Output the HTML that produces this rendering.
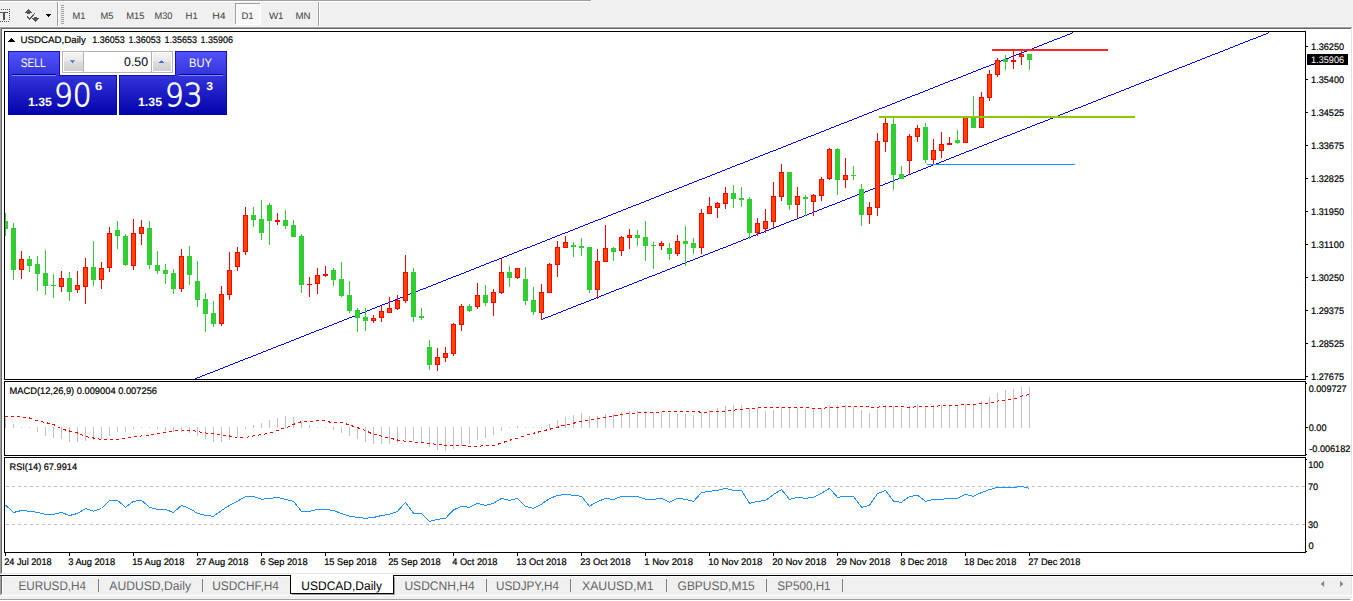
<!DOCTYPE html>
<html lang="en"><head><meta charset="utf-8"><title>USDCAD,Daily</title>
<style>
html,body{margin:0;padding:0;background:#f0f0f0;overflow:hidden}
svg{display:block;font-family:"Liberation Sans", sans-serif}
text{white-space:pre}
</style></head><body>
<svg width="1353" height="601" viewBox="0 0 1353 601" shape-rendering="crispEdges" text-rendering="geometricPrecision">
<rect x="0" y="0" width="1353" height="601" fill="#f0f0f0"/>
<rect x="2" y="29" width="1349" height="545" fill="#fff"/>
<rect x="4" y="31" width="1302" height="1" fill="#000"/>
<rect x="4" y="379" width="1302" height="1" fill="#000"/>
<rect x="4" y="31" width="1" height="349" fill="#000"/>
<rect x="1305" y="31" width="1" height="349" fill="#000"/>
<rect x="4" y="381" width="1302" height="1" fill="#000"/>
<rect x="4" y="455" width="1302" height="1" fill="#000"/>
<rect x="4" y="381" width="1" height="75" fill="#000"/>
<rect x="1305" y="381" width="1" height="75" fill="#000"/>
<rect x="4" y="457" width="1302" height="1" fill="#000"/>
<rect x="4" y="552" width="1302" height="1" fill="#000"/>
<rect x="4" y="457" width="1" height="96" fill="#000"/>
<rect x="1305" y="457" width="1" height="96" fill="#000"/>
<rect x="1306" y="383" width="1" height="1" fill="#000"/>
<rect x="1306" y="454" width="1" height="1" fill="#000"/>
<rect x="1306" y="459" width="1" height="1" fill="#000"/>
<rect x="1306" y="551" width="1" height="1" fill="#000"/>
<defs><clipPath id="cm"><rect x="5" y="32" width="1300" height="347"/></clipPath><linearGradient id="gb" x1="0" y1="51" x2="0" y2="115" gradientUnits="userSpaceOnUse"><stop offset="0" stop-color="#5353fa"/><stop offset="1" stop-color="#0202aa"/></linearGradient><linearGradient id="gs" x1="0" y1="0" x2="0" y2="1"><stop offset="0" stop-color="#f3f3f3"/><stop offset="0.45" stop-color="#e8e8e8"/><stop offset="0.5" stop-color="#dcdcdc"/><stop offset="1" stop-color="#d0d0d0"/></linearGradient></defs>
<g clip-path="url(#cm)">
<path d="M1072 32h1v1h-1zM1070 33h2v1h-2zM1067 34h3v1h-3zM1065 35h2v1h-2zM1062 36h3v1h-3zM1060 37h2v1h-2zM1057 38h3v1h-3zM1054 39h3v1h-3zM1052 40h2v1h-2zM1049 41h3v1h-3zM1047 42h2v1h-2zM1044 43h3v1h-3zM1042 44h2v1h-2zM1039 45h3v1h-3zM1037 46h2v1h-2zM1034 47h3v1h-3zM1032 48h2v1h-2zM1029 49h3v1h-3zM1027 50h2v1h-2zM1024 51h3v1h-3zM1022 52h2v1h-2zM1019 53h3v1h-3zM1016 54h3v1h-3zM1014 55h2v1h-2zM1011 56h3v1h-3zM1009 57h2v1h-2zM1006 58h3v1h-3zM1004 59h2v1h-2zM1001 60h3v1h-3zM999 61h2v1h-2zM996 62h3v1h-3zM994 63h2v1h-2zM991 64h3v1h-3zM989 65h2v1h-2zM986 66h3v1h-3zM983 67h3v1h-3zM981 68h2v1h-2zM978 69h3v1h-3zM976 70h2v1h-2zM973 71h3v1h-3zM971 72h2v1h-2zM968 73h3v1h-3zM966 74h2v1h-2zM963 75h3v1h-3zM961 76h2v1h-2zM958 77h3v1h-3zM956 78h2v1h-2zM953 79h3v1h-3zM950 80h3v1h-3zM948 81h2v1h-2zM945 82h3v1h-3zM943 83h2v1h-2zM940 84h3v1h-3zM938 85h2v1h-2zM935 86h3v1h-3zM933 87h2v1h-2zM930 88h3v1h-3zM928 89h2v1h-2zM925 90h3v1h-3zM923 91h2v1h-2zM920 92h3v1h-3zM918 93h2v1h-2zM915 94h3v1h-3zM912 95h3v1h-3zM910 96h2v1h-2zM907 97h3v1h-3zM905 98h2v1h-2zM902 99h3v1h-3zM900 100h2v1h-2zM897 101h3v1h-3zM895 102h2v1h-2zM892 103h3v1h-3zM890 104h2v1h-2zM887 105h3v1h-3zM885 106h2v1h-2zM882 107h3v1h-3zM879 108h3v1h-3zM877 109h2v1h-2zM874 110h3v1h-3zM872 111h2v1h-2zM869 112h3v1h-3zM867 113h2v1h-2zM864 114h3v1h-3zM862 115h2v1h-2zM859 116h3v1h-3zM857 117h2v1h-2zM854 118h3v1h-3zM852 119h2v1h-2zM849 120h3v1h-3zM847 121h2v1h-2zM844 122h3v1h-3zM841 123h3v1h-3zM839 124h2v1h-2zM836 125h3v1h-3zM834 126h2v1h-2zM831 127h3v1h-3zM829 128h2v1h-2zM826 129h3v1h-3zM824 130h2v1h-2zM821 131h3v1h-3zM819 132h2v1h-2zM816 133h3v1h-3zM814 134h2v1h-2zM811 135h3v1h-3zM808 136h3v1h-3zM806 137h2v1h-2zM803 138h3v1h-3zM801 139h2v1h-2zM798 140h3v1h-3zM796 141h2v1h-2zM793 142h3v1h-3zM791 143h2v1h-2zM788 144h3v1h-3zM786 145h2v1h-2zM783 146h3v1h-3zM781 147h2v1h-2zM778 148h3v1h-3zM776 149h2v1h-2zM773 150h3v1h-3zM770 151h3v1h-3zM768 152h2v1h-2zM765 153h3v1h-3zM763 154h2v1h-2zM760 155h3v1h-3zM758 156h2v1h-2zM755 157h3v1h-3zM753 158h2v1h-2zM750 159h3v1h-3zM748 160h2v1h-2zM745 161h3v1h-3zM743 162h2v1h-2zM740 163h3v1h-3zM737 164h3v1h-3zM735 165h2v1h-2zM732 166h3v1h-3zM730 167h2v1h-2zM727 168h3v1h-3zM725 169h2v1h-2zM722 170h3v1h-3zM720 171h2v1h-2zM717 172h3v1h-3zM715 173h2v1h-2zM712 174h3v1h-3zM710 175h2v1h-2zM707 176h3v1h-3zM705 177h2v1h-2zM702 178h3v1h-3zM699 179h3v1h-3zM697 180h2v1h-2zM694 181h3v1h-3zM692 182h2v1h-2zM689 183h3v1h-3zM687 184h2v1h-2zM684 185h3v1h-3zM682 186h2v1h-2zM679 187h3v1h-3zM677 188h2v1h-2zM674 189h3v1h-3zM672 190h2v1h-2zM669 191h3v1h-3zM666 192h3v1h-3zM664 193h2v1h-2zM661 194h3v1h-3zM659 195h2v1h-2zM656 196h3v1h-3zM654 197h2v1h-2zM651 198h3v1h-3zM649 199h2v1h-2zM646 200h3v1h-3zM644 201h2v1h-2zM641 202h3v1h-3zM639 203h2v1h-2zM636 204h3v1h-3zM633 205h3v1h-3zM631 206h2v1h-2zM628 207h3v1h-3zM626 208h2v1h-2zM623 209h3v1h-3zM621 210h2v1h-2zM618 211h3v1h-3zM616 212h2v1h-2zM613 213h3v1h-3zM611 214h2v1h-2zM608 215h3v1h-3zM606 216h2v1h-2zM603 217h3v1h-3zM601 218h2v1h-2zM598 219h3v1h-3zM595 220h3v1h-3zM593 221h2v1h-2zM590 222h3v1h-3zM588 223h2v1h-2zM585 224h3v1h-3zM583 225h2v1h-2zM580 226h3v1h-3zM578 227h2v1h-2zM575 228h3v1h-3zM573 229h2v1h-2zM570 230h3v1h-3zM568 231h2v1h-2zM565 232h3v1h-3zM562 233h3v1h-3zM560 234h2v1h-2zM557 235h3v1h-3zM555 236h2v1h-2zM552 237h3v1h-3zM550 238h2v1h-2zM547 239h3v1h-3zM545 240h2v1h-2zM542 241h3v1h-3zM540 242h2v1h-2zM537 243h3v1h-3zM535 244h2v1h-2zM532 245h3v1h-3zM530 246h2v1h-2zM527 247h3v1h-3zM524 248h3v1h-3zM522 249h2v1h-2zM519 250h3v1h-3zM517 251h2v1h-2zM514 252h3v1h-3zM512 253h2v1h-2zM509 254h3v1h-3zM507 255h2v1h-2zM504 256h3v1h-3zM502 257h2v1h-2zM499 258h3v1h-3zM497 259h2v1h-2zM494 260h3v1h-3zM491 261h3v1h-3zM489 262h2v1h-2zM486 263h3v1h-3zM484 264h2v1h-2zM481 265h3v1h-3zM479 266h2v1h-2zM476 267h3v1h-3zM474 268h2v1h-2zM471 269h3v1h-3zM469 270h2v1h-2zM466 271h3v1h-3zM464 272h2v1h-2zM461 273h3v1h-3zM459 274h2v1h-2zM456 275h3v1h-3zM453 276h3v1h-3zM451 277h2v1h-2zM448 278h3v1h-3zM446 279h2v1h-2zM443 280h3v1h-3zM441 281h2v1h-2zM438 282h3v1h-3zM436 283h2v1h-2zM433 284h3v1h-3zM431 285h2v1h-2zM428 286h3v1h-3zM426 287h2v1h-2zM423 288h3v1h-3zM420 289h3v1h-3zM418 290h2v1h-2zM415 291h3v1h-3zM413 292h2v1h-2zM410 293h3v1h-3zM408 294h2v1h-2zM405 295h3v1h-3zM403 296h2v1h-2zM400 297h3v1h-3zM398 298h2v1h-2zM395 299h3v1h-3zM393 300h2v1h-2zM390 301h3v1h-3zM388 302h2v1h-2zM385 303h3v1h-3zM382 304h3v1h-3zM380 305h2v1h-2zM377 306h3v1h-3zM375 307h2v1h-2zM372 308h3v1h-3zM370 309h2v1h-2zM367 310h3v1h-3zM365 311h2v1h-2zM362 312h3v1h-3zM360 313h2v1h-2zM357 314h3v1h-3zM355 315h2v1h-2zM352 316h3v1h-3zM349 317h3v1h-3zM347 318h2v1h-2zM344 319h3v1h-3zM342 320h2v1h-2zM339 321h3v1h-3zM337 322h2v1h-2zM334 323h3v1h-3zM332 324h2v1h-2zM329 325h3v1h-3zM327 326h2v1h-2zM324 327h3v1h-3zM322 328h2v1h-2zM319 329h3v1h-3zM316 330h3v1h-3zM314 331h2v1h-2zM311 332h3v1h-3zM309 333h2v1h-2zM306 334h3v1h-3zM304 335h2v1h-2zM301 336h3v1h-3zM299 337h2v1h-2zM296 338h3v1h-3zM294 339h2v1h-2zM291 340h3v1h-3zM289 341h2v1h-2zM286 342h3v1h-3zM284 343h2v1h-2zM281 344h3v1h-3zM278 345h3v1h-3zM276 346h2v1h-2zM273 347h3v1h-3zM271 348h2v1h-2zM268 349h3v1h-3zM266 350h2v1h-2zM263 351h3v1h-3zM261 352h2v1h-2zM258 353h3v1h-3zM256 354h2v1h-2zM253 355h3v1h-3zM251 356h2v1h-2zM248 357h3v1h-3zM245 358h3v1h-3zM243 359h2v1h-2zM240 360h3v1h-3zM238 361h2v1h-2zM235 362h3v1h-3zM233 363h2v1h-2zM230 364h3v1h-3zM228 365h2v1h-2zM225 366h3v1h-3zM223 367h2v1h-2zM220 368h3v1h-3zM218 369h2v1h-2zM215 370h3v1h-3zM213 371h2v1h-2zM210 372h3v1h-3zM207 373h3v1h-3zM205 374h2v1h-2zM202 375h3v1h-3zM200 376h2v1h-2zM197 377h3v1h-3zM195 378h2v1h-2z" fill="#0000ff"/>
<path d="M1268 32h1v1h-1zM1266 33h2v1h-2zM1263 34h3v1h-3zM1261 35h2v1h-2zM1258 36h3v1h-3zM1256 37h2v1h-2zM1253 38h3v1h-3zM1250 39h3v1h-3zM1248 40h2v1h-2zM1245 41h3v1h-3zM1243 42h2v1h-2zM1240 43h3v1h-3zM1238 44h2v1h-2zM1235 45h3v1h-3zM1233 46h2v1h-2zM1230 47h3v1h-3zM1228 48h2v1h-2zM1225 49h3v1h-3zM1223 50h2v1h-2zM1220 51h3v1h-3zM1218 52h2v1h-2zM1215 53h3v1h-3zM1212 54h3v1h-3zM1210 55h2v1h-2zM1207 56h3v1h-3zM1205 57h2v1h-2zM1202 58h3v1h-3zM1200 59h2v1h-2zM1197 60h3v1h-3zM1195 61h2v1h-2zM1192 62h3v1h-3zM1190 63h2v1h-2zM1187 64h3v1h-3zM1185 65h2v1h-2zM1182 66h3v1h-3zM1179 67h3v1h-3zM1177 68h2v1h-2zM1174 69h3v1h-3zM1172 70h2v1h-2zM1169 71h3v1h-3zM1167 72h2v1h-2zM1164 73h3v1h-3zM1162 74h2v1h-2zM1159 75h3v1h-3zM1157 76h2v1h-2zM1154 77h3v1h-3zM1152 78h2v1h-2zM1149 79h3v1h-3zM1146 80h3v1h-3zM1144 81h2v1h-2zM1141 82h3v1h-3zM1139 83h2v1h-2zM1136 84h3v1h-3zM1134 85h2v1h-2zM1131 86h3v1h-3zM1129 87h2v1h-2zM1126 88h3v1h-3zM1124 89h2v1h-2zM1121 90h3v1h-3zM1119 91h2v1h-2zM1116 92h3v1h-3zM1114 93h2v1h-2zM1111 94h3v1h-3zM1108 95h3v1h-3zM1106 96h2v1h-2zM1103 97h3v1h-3zM1101 98h2v1h-2zM1098 99h3v1h-3zM1096 100h2v1h-2zM1093 101h3v1h-3zM1091 102h2v1h-2zM1088 103h3v1h-3zM1086 104h2v1h-2zM1083 105h3v1h-3zM1081 106h2v1h-2zM1078 107h3v1h-3zM1075 108h3v1h-3zM1073 109h2v1h-2zM1070 110h3v1h-3zM1068 111h2v1h-2zM1065 112h3v1h-3zM1063 113h2v1h-2zM1060 114h3v1h-3zM1058 115h2v1h-2zM1055 116h3v1h-3zM1053 117h2v1h-2zM1050 118h3v1h-3zM1048 119h2v1h-2zM1045 120h3v1h-3zM1043 121h2v1h-2zM1040 122h3v1h-3zM1037 123h3v1h-3zM1035 124h2v1h-2zM1032 125h3v1h-3zM1030 126h2v1h-2zM1027 127h3v1h-3zM1025 128h2v1h-2zM1022 129h3v1h-3zM1020 130h2v1h-2zM1017 131h3v1h-3zM1015 132h2v1h-2zM1012 133h3v1h-3zM1010 134h2v1h-2zM1007 135h3v1h-3zM1004 136h3v1h-3zM1002 137h2v1h-2zM999 138h3v1h-3zM997 139h2v1h-2zM994 140h3v1h-3zM992 141h2v1h-2zM989 142h3v1h-3zM987 143h2v1h-2zM984 144h3v1h-3zM982 145h2v1h-2zM979 146h3v1h-3zM977 147h2v1h-2zM974 148h3v1h-3zM972 149h2v1h-2zM969 150h3v1h-3zM966 151h3v1h-3zM964 152h2v1h-2zM961 153h3v1h-3zM959 154h2v1h-2zM956 155h3v1h-3zM954 156h2v1h-2zM951 157h3v1h-3zM949 158h2v1h-2zM946 159h3v1h-3zM944 160h2v1h-2zM941 161h3v1h-3zM939 162h2v1h-2zM936 163h3v1h-3zM933 164h3v1h-3zM931 165h2v1h-2zM928 166h3v1h-3zM926 167h2v1h-2zM923 168h3v1h-3zM921 169h2v1h-2zM918 170h3v1h-3zM916 171h2v1h-2zM913 172h3v1h-3zM911 173h2v1h-2zM908 174h3v1h-3zM906 175h2v1h-2zM903 176h3v1h-3zM901 177h2v1h-2zM898 178h3v1h-3zM895 179h3v1h-3zM893 180h2v1h-2zM890 181h3v1h-3zM888 182h2v1h-2zM885 183h3v1h-3zM883 184h2v1h-2zM880 185h3v1h-3zM878 186h2v1h-2zM875 187h3v1h-3zM873 188h2v1h-2zM870 189h3v1h-3zM868 190h2v1h-2zM865 191h3v1h-3zM862 192h3v1h-3zM860 193h2v1h-2zM857 194h3v1h-3zM855 195h2v1h-2zM852 196h3v1h-3zM850 197h2v1h-2zM847 198h3v1h-3zM845 199h2v1h-2zM842 200h3v1h-3zM840 201h2v1h-2zM837 202h3v1h-3zM835 203h2v1h-2zM832 204h3v1h-3zM829 205h3v1h-3zM827 206h2v1h-2zM824 207h3v1h-3zM822 208h2v1h-2zM819 209h3v1h-3zM817 210h2v1h-2zM814 211h3v1h-3zM812 212h2v1h-2zM809 213h3v1h-3zM807 214h2v1h-2zM804 215h3v1h-3zM802 216h2v1h-2zM799 217h3v1h-3zM797 218h2v1h-2zM794 219h3v1h-3zM791 220h3v1h-3zM789 221h2v1h-2zM786 222h3v1h-3zM784 223h2v1h-2zM781 224h3v1h-3zM779 225h2v1h-2zM776 226h3v1h-3zM774 227h2v1h-2zM771 228h3v1h-3zM769 229h2v1h-2zM766 230h3v1h-3zM764 231h2v1h-2zM761 232h3v1h-3zM758 233h3v1h-3zM756 234h2v1h-2zM753 235h3v1h-3zM751 236h2v1h-2zM748 237h3v1h-3zM746 238h2v1h-2zM743 239h3v1h-3zM741 240h2v1h-2zM738 241h3v1h-3zM736 242h2v1h-2zM733 243h3v1h-3zM731 244h2v1h-2zM728 245h3v1h-3zM726 246h2v1h-2zM723 247h3v1h-3zM720 248h3v1h-3zM718 249h2v1h-2zM715 250h3v1h-3zM713 251h2v1h-2zM710 252h3v1h-3zM708 253h2v1h-2zM705 254h3v1h-3zM703 255h2v1h-2zM700 256h3v1h-3zM698 257h2v1h-2zM695 258h3v1h-3zM693 259h2v1h-2zM690 260h3v1h-3zM687 261h3v1h-3zM685 262h2v1h-2zM682 263h3v1h-3zM680 264h2v1h-2zM677 265h3v1h-3zM675 266h2v1h-2zM672 267h3v1h-3zM670 268h2v1h-2zM667 269h3v1h-3zM665 270h2v1h-2zM662 271h3v1h-3zM660 272h2v1h-2zM657 273h3v1h-3zM655 274h2v1h-2zM652 275h3v1h-3zM649 276h3v1h-3zM647 277h2v1h-2zM644 278h3v1h-3zM642 279h2v1h-2zM639 280h3v1h-3zM637 281h2v1h-2zM634 282h3v1h-3zM632 283h2v1h-2zM629 284h3v1h-3zM627 285h2v1h-2zM624 286h3v1h-3zM622 287h2v1h-2zM619 288h3v1h-3zM616 289h3v1h-3zM614 290h2v1h-2zM611 291h3v1h-3zM609 292h2v1h-2zM606 293h3v1h-3zM604 294h2v1h-2zM601 295h3v1h-3zM599 296h2v1h-2zM596 297h3v1h-3zM594 298h2v1h-2zM591 299h3v1h-3zM589 300h2v1h-2zM586 301h3v1h-3zM584 302h2v1h-2zM581 303h3v1h-3zM578 304h3v1h-3zM576 305h2v1h-2zM573 306h3v1h-3zM571 307h2v1h-2zM568 308h3v1h-3zM566 309h2v1h-2zM563 310h3v1h-3zM561 311h2v1h-2zM558 312h3v1h-3zM556 313h2v1h-2zM553 314h3v1h-3zM551 315h2v1h-2zM548 316h3v1h-3zM545 317h3v1h-3zM543 318h2v1h-2zM541 319h2v1h-2z" fill="#0000ff"/>
<rect x="5" y="213" width="1" height="23" fill="#32cd32"/>
<rect x="3" y="221" width="5" height="8" fill="#32cd32"/>
<rect x="13" y="223" width="1" height="57" fill="#32cd32"/>
<rect x="11" y="228" width="5" height="42" fill="#32cd32"/>
<rect x="21" y="251" width="1" height="28" fill="#ff0000"/>
<rect x="19" y="259" width="5" height="11" fill="#ff0000"/>
<rect x="20" y="260" width="3" height="9" fill="#ff4500"/>
<rect x="29" y="256" width="1" height="16" fill="#32cd32"/>
<rect x="27" y="259" width="5" height="7" fill="#32cd32"/>
<rect x="37" y="256" width="1" height="35" fill="#32cd32"/>
<rect x="35" y="264" width="5" height="10" fill="#32cd32"/>
<rect x="45" y="250" width="1" height="45" fill="#32cd32"/>
<rect x="43" y="273" width="5" height="13" fill="#32cd32"/>
<rect x="53" y="274" width="1" height="24" fill="#32cd32"/>
<rect x="51" y="285" width="5" height="1" fill="#32cd32"/>
<rect x="61" y="271" width="1" height="21" fill="#ff0000"/>
<rect x="59" y="278" width="5" height="9" fill="#ff0000"/>
<rect x="60" y="279" width="3" height="7" fill="#ff4500"/>
<rect x="69" y="272" width="1" height="29" fill="#32cd32"/>
<rect x="67" y="278" width="5" height="14" fill="#32cd32"/>
<rect x="77" y="271" width="1" height="22" fill="#ff0000"/>
<rect x="75" y="285" width="5" height="5" fill="#ff0000"/>
<rect x="76" y="286" width="3" height="3" fill="#ff4500"/>
<rect x="85" y="258" width="1" height="46" fill="#ff0000"/>
<rect x="83" y="267" width="5" height="20" fill="#ff0000"/>
<rect x="84" y="268" width="3" height="18" fill="#ff4500"/>
<rect x="93" y="241" width="1" height="45" fill="#32cd32"/>
<rect x="91" y="267" width="5" height="13" fill="#32cd32"/>
<rect x="101" y="262" width="1" height="27" fill="#ff0000"/>
<rect x="99" y="268" width="5" height="12" fill="#ff0000"/>
<rect x="100" y="269" width="3" height="10" fill="#ff4500"/>
<rect x="109" y="227" width="1" height="45" fill="#ff0000"/>
<rect x="107" y="233" width="5" height="35" fill="#ff0000"/>
<rect x="108" y="234" width="3" height="33" fill="#ff4500"/>
<rect x="117" y="221" width="1" height="28" fill="#32cd32"/>
<rect x="115" y="230" width="5" height="6" fill="#32cd32"/>
<rect x="125" y="234" width="1" height="32" fill="#32cd32"/>
<rect x="123" y="236" width="5" height="29" fill="#32cd32"/>
<rect x="133" y="219" width="1" height="51" fill="#ff0000"/>
<rect x="131" y="233" width="5" height="33" fill="#ff0000"/>
<rect x="132" y="234" width="3" height="31" fill="#ff4500"/>
<rect x="141" y="220" width="1" height="25" fill="#ff0000"/>
<rect x="139" y="227" width="5" height="7" fill="#ff0000"/>
<rect x="140" y="228" width="3" height="5" fill="#ff4500"/>
<rect x="149" y="221" width="1" height="48" fill="#32cd32"/>
<rect x="147" y="228" width="5" height="37" fill="#32cd32"/>
<rect x="157" y="251" width="1" height="23" fill="#32cd32"/>
<rect x="155" y="265" width="5" height="6" fill="#32cd32"/>
<rect x="165" y="264" width="1" height="20" fill="#32cd32"/>
<rect x="163" y="270" width="5" height="4" fill="#32cd32"/>
<rect x="173" y="269" width="1" height="25" fill="#32cd32"/>
<rect x="171" y="273" width="5" height="16" fill="#32cd32"/>
<rect x="181" y="249" width="1" height="43" fill="#ff0000"/>
<rect x="179" y="256" width="5" height="33" fill="#ff0000"/>
<rect x="180" y="257" width="3" height="31" fill="#ff4500"/>
<rect x="189" y="246" width="1" height="39" fill="#32cd32"/>
<rect x="187" y="256" width="5" height="19" fill="#32cd32"/>
<rect x="197" y="261" width="1" height="46" fill="#32cd32"/>
<rect x="195" y="281" width="5" height="19" fill="#32cd32"/>
<rect x="205" y="293" width="1" height="39" fill="#32cd32"/>
<rect x="203" y="299" width="5" height="15" fill="#32cd32"/>
<rect x="213" y="301" width="1" height="26" fill="#32cd32"/>
<rect x="211" y="313" width="5" height="11" fill="#32cd32"/>
<rect x="221" y="286" width="1" height="40" fill="#ff0000"/>
<rect x="219" y="294" width="5" height="30" fill="#ff0000"/>
<rect x="220" y="295" width="3" height="28" fill="#ff4500"/>
<rect x="229" y="252" width="1" height="48" fill="#ff0000"/>
<rect x="227" y="270" width="5" height="25" fill="#ff0000"/>
<rect x="228" y="271" width="3" height="23" fill="#ff4500"/>
<rect x="237" y="247" width="1" height="24" fill="#ff0000"/>
<rect x="235" y="252" width="5" height="15" fill="#ff0000"/>
<rect x="236" y="253" width="3" height="13" fill="#ff4500"/>
<rect x="245" y="207" width="1" height="48" fill="#ff0000"/>
<rect x="243" y="215" width="5" height="37" fill="#ff0000"/>
<rect x="244" y="216" width="3" height="35" fill="#ff4500"/>
<rect x="253" y="207" width="1" height="20" fill="#32cd32"/>
<rect x="251" y="215" width="5" height="5" fill="#32cd32"/>
<rect x="261" y="200" width="1" height="40" fill="#32cd32"/>
<rect x="259" y="219" width="5" height="14" fill="#32cd32"/>
<rect x="269" y="203" width="1" height="42" fill="#32cd32"/>
<rect x="267" y="205" width="5" height="16" fill="#32cd32"/>
<rect x="277" y="213" width="1" height="12" fill="#ff0000"/>
<rect x="275" y="220" width="5" height="2" fill="#ff0000"/>
<rect x="285" y="210" width="1" height="19" fill="#32cd32"/>
<rect x="283" y="220" width="5" height="6" fill="#32cd32"/>
<rect x="293" y="220" width="1" height="17" fill="#32cd32"/>
<rect x="291" y="225" width="5" height="12" fill="#32cd32"/>
<rect x="301" y="234" width="1" height="59" fill="#32cd32"/>
<rect x="299" y="236" width="5" height="49" fill="#32cd32"/>
<rect x="309" y="277" width="1" height="20" fill="#ff0000"/>
<rect x="307" y="284" width="5" height="1" fill="#ff0000"/>
<rect x="317" y="268" width="1" height="26" fill="#ff0000"/>
<rect x="315" y="275" width="5" height="9" fill="#ff0000"/>
<rect x="316" y="276" width="3" height="7" fill="#ff4500"/>
<rect x="325" y="266" width="1" height="11" fill="#ff0000"/>
<rect x="323" y="274" width="5" height="2" fill="#ff0000"/>
<rect x="333" y="268" width="1" height="18" fill="#32cd32"/>
<rect x="331" y="270" width="5" height="10" fill="#32cd32"/>
<rect x="341" y="262" width="1" height="35" fill="#32cd32"/>
<rect x="339" y="279" width="5" height="17" fill="#32cd32"/>
<rect x="349" y="281" width="1" height="32" fill="#32cd32"/>
<rect x="347" y="295" width="5" height="16" fill="#32cd32"/>
<rect x="357" y="308" width="1" height="24" fill="#32cd32"/>
<rect x="355" y="310" width="5" height="8" fill="#32cd32"/>
<rect x="365" y="308" width="1" height="23" fill="#32cd32"/>
<rect x="363" y="317" width="5" height="4" fill="#32cd32"/>
<rect x="373" y="315" width="1" height="8" fill="#ff0000"/>
<rect x="371" y="318" width="5" height="3" fill="#ff0000"/>
<rect x="372" y="319" width="3" height="1" fill="#ff4500"/>
<rect x="381" y="306" width="1" height="16" fill="#ff0000"/>
<rect x="379" y="311" width="5" height="7" fill="#ff0000"/>
<rect x="380" y="312" width="3" height="5" fill="#ff4500"/>
<rect x="389" y="297" width="1" height="16" fill="#ff0000"/>
<rect x="387" y="308" width="5" height="5" fill="#ff0000"/>
<rect x="388" y="309" width="3" height="3" fill="#ff4500"/>
<rect x="397" y="295" width="1" height="15" fill="#ff0000"/>
<rect x="395" y="300" width="5" height="9" fill="#ff0000"/>
<rect x="396" y="301" width="3" height="7" fill="#ff4500"/>
<rect x="405" y="255" width="1" height="48" fill="#ff0000"/>
<rect x="403" y="272" width="5" height="29" fill="#ff0000"/>
<rect x="404" y="273" width="3" height="27" fill="#ff4500"/>
<rect x="413" y="268" width="1" height="54" fill="#32cd32"/>
<rect x="411" y="272" width="5" height="45" fill="#32cd32"/>
<rect x="421" y="308" width="1" height="12" fill="#32cd32"/>
<rect x="419" y="316" width="5" height="2" fill="#32cd32"/>
<rect x="429" y="340" width="1" height="30" fill="#32cd32"/>
<rect x="427" y="347" width="5" height="18" fill="#32cd32"/>
<rect x="437" y="348" width="1" height="23" fill="#ff0000"/>
<rect x="435" y="357" width="5" height="8" fill="#ff0000"/>
<rect x="436" y="358" width="3" height="6" fill="#ff4500"/>
<rect x="445" y="347" width="1" height="15" fill="#ff0000"/>
<rect x="443" y="353" width="5" height="5" fill="#ff0000"/>
<rect x="444" y="354" width="3" height="3" fill="#ff4500"/>
<rect x="453" y="323" width="1" height="33" fill="#ff0000"/>
<rect x="451" y="324" width="5" height="30" fill="#ff0000"/>
<rect x="452" y="325" width="3" height="28" fill="#ff4500"/>
<rect x="461" y="304" width="1" height="27" fill="#ff0000"/>
<rect x="459" y="306" width="5" height="19" fill="#ff0000"/>
<rect x="460" y="307" width="3" height="17" fill="#ff4500"/>
<rect x="469" y="304" width="1" height="8" fill="#32cd32"/>
<rect x="467" y="306" width="5" height="5" fill="#32cd32"/>
<rect x="477" y="283" width="1" height="26" fill="#ff0000"/>
<rect x="475" y="295" width="5" height="12" fill="#ff0000"/>
<rect x="476" y="296" width="3" height="10" fill="#ff4500"/>
<rect x="485" y="285" width="1" height="21" fill="#32cd32"/>
<rect x="483" y="295" width="5" height="8" fill="#32cd32"/>
<rect x="493" y="289" width="1" height="27" fill="#ff0000"/>
<rect x="491" y="292" width="5" height="11" fill="#ff0000"/>
<rect x="492" y="293" width="3" height="9" fill="#ff4500"/>
<rect x="501" y="259" width="1" height="35" fill="#ff0000"/>
<rect x="499" y="272" width="5" height="21" fill="#ff0000"/>
<rect x="500" y="273" width="3" height="19" fill="#ff4500"/>
<rect x="509" y="266" width="1" height="21" fill="#32cd32"/>
<rect x="507" y="272" width="5" height="6" fill="#32cd32"/>
<rect x="517" y="268" width="1" height="11" fill="#ff0000"/>
<rect x="515" y="268" width="5" height="10" fill="#ff0000"/>
<rect x="516" y="269" width="3" height="8" fill="#ff4500"/>
<rect x="525" y="267" width="1" height="38" fill="#32cd32"/>
<rect x="523" y="279" width="5" height="22" fill="#32cd32"/>
<rect x="533" y="287" width="1" height="28" fill="#32cd32"/>
<rect x="531" y="300" width="5" height="12" fill="#32cd32"/>
<rect x="541" y="284" width="1" height="36" fill="#ff0000"/>
<rect x="539" y="292" width="5" height="21" fill="#ff0000"/>
<rect x="540" y="293" width="3" height="19" fill="#ff4500"/>
<rect x="549" y="263" width="1" height="30" fill="#ff0000"/>
<rect x="547" y="264" width="5" height="29" fill="#ff0000"/>
<rect x="548" y="265" width="3" height="27" fill="#ff4500"/>
<rect x="557" y="241" width="1" height="36" fill="#ff0000"/>
<rect x="555" y="247" width="5" height="18" fill="#ff0000"/>
<rect x="556" y="248" width="3" height="16" fill="#ff4500"/>
<rect x="565" y="236" width="1" height="12" fill="#ff0000"/>
<rect x="563" y="242" width="5" height="6" fill="#ff0000"/>
<rect x="564" y="243" width="3" height="4" fill="#ff4500"/>
<rect x="573" y="242" width="1" height="15" fill="#32cd32"/>
<rect x="571" y="245" width="5" height="2" fill="#32cd32"/>
<rect x="581" y="238" width="1" height="18" fill="#32cd32"/>
<rect x="579" y="246" width="5" height="2" fill="#32cd32"/>
<rect x="589" y="247" width="1" height="46" fill="#32cd32"/>
<rect x="587" y="247" width="5" height="43" fill="#32cd32"/>
<rect x="597" y="249" width="1" height="50" fill="#ff0000"/>
<rect x="595" y="261" width="5" height="29" fill="#ff0000"/>
<rect x="596" y="262" width="3" height="27" fill="#ff4500"/>
<rect x="605" y="225" width="1" height="37" fill="#ff0000"/>
<rect x="603" y="248" width="5" height="14" fill="#ff0000"/>
<rect x="604" y="249" width="3" height="12" fill="#ff4500"/>
<rect x="613" y="247" width="1" height="14" fill="#32cd32"/>
<rect x="611" y="248" width="5" height="4" fill="#32cd32"/>
<rect x="621" y="236" width="1" height="20" fill="#ff0000"/>
<rect x="619" y="237" width="5" height="14" fill="#ff0000"/>
<rect x="620" y="238" width="3" height="12" fill="#ff4500"/>
<rect x="629" y="229" width="1" height="20" fill="#ff0000"/>
<rect x="627" y="235" width="5" height="3" fill="#ff0000"/>
<rect x="628" y="236" width="3" height="1" fill="#ff4500"/>
<rect x="637" y="230" width="1" height="16" fill="#32cd32"/>
<rect x="635" y="235" width="5" height="3" fill="#32cd32"/>
<rect x="645" y="221" width="1" height="40" fill="#32cd32"/>
<rect x="643" y="237" width="5" height="9" fill="#32cd32"/>
<rect x="653" y="242" width="1" height="27" fill="#32cd32"/>
<rect x="651" y="245" width="5" height="1" fill="#32cd32"/>
<rect x="661" y="241" width="1" height="9" fill="#ff0000"/>
<rect x="659" y="243" width="5" height="3" fill="#ff0000"/>
<rect x="660" y="244" width="3" height="1" fill="#ff4500"/>
<rect x="669" y="243" width="1" height="17" fill="#32cd32"/>
<rect x="667" y="248" width="5" height="6" fill="#32cd32"/>
<rect x="677" y="235" width="1" height="21" fill="#ff0000"/>
<rect x="675" y="241" width="5" height="13" fill="#ff0000"/>
<rect x="676" y="242" width="3" height="11" fill="#ff4500"/>
<rect x="685" y="226" width="1" height="40" fill="#32cd32"/>
<rect x="683" y="241" width="5" height="3" fill="#32cd32"/>
<rect x="693" y="238" width="1" height="16" fill="#32cd32"/>
<rect x="691" y="243" width="5" height="5" fill="#32cd32"/>
<rect x="701" y="209" width="1" height="45" fill="#ff0000"/>
<rect x="699" y="213" width="5" height="35" fill="#ff0000"/>
<rect x="700" y="214" width="3" height="33" fill="#ff4500"/>
<rect x="709" y="197" width="1" height="17" fill="#ff0000"/>
<rect x="707" y="206" width="5" height="8" fill="#ff0000"/>
<rect x="708" y="207" width="3" height="6" fill="#ff4500"/>
<rect x="717" y="202" width="1" height="16" fill="#ff0000"/>
<rect x="715" y="203" width="5" height="5" fill="#ff0000"/>
<rect x="716" y="204" width="3" height="3" fill="#ff4500"/>
<rect x="725" y="187" width="1" height="22" fill="#ff0000"/>
<rect x="723" y="193" width="5" height="11" fill="#ff0000"/>
<rect x="724" y="194" width="3" height="9" fill="#ff4500"/>
<rect x="733" y="185" width="1" height="23" fill="#32cd32"/>
<rect x="731" y="193" width="5" height="6" fill="#32cd32"/>
<rect x="741" y="187" width="1" height="20" fill="#32cd32"/>
<rect x="739" y="198" width="5" height="2" fill="#32cd32"/>
<rect x="749" y="197" width="1" height="42" fill="#32cd32"/>
<rect x="747" y="199" width="5" height="34" fill="#32cd32"/>
<rect x="757" y="218" width="1" height="18" fill="#ff0000"/>
<rect x="755" y="223" width="5" height="10" fill="#ff0000"/>
<rect x="756" y="224" width="3" height="8" fill="#ff4500"/>
<rect x="765" y="209" width="1" height="24" fill="#ff0000"/>
<rect x="763" y="221" width="5" height="8" fill="#ff0000"/>
<rect x="764" y="222" width="3" height="6" fill="#ff4500"/>
<rect x="773" y="182" width="1" height="46" fill="#ff0000"/>
<rect x="771" y="196" width="5" height="26" fill="#ff0000"/>
<rect x="772" y="197" width="3" height="24" fill="#ff4500"/>
<rect x="781" y="164" width="1" height="37" fill="#ff0000"/>
<rect x="779" y="172" width="5" height="25" fill="#ff0000"/>
<rect x="780" y="173" width="3" height="23" fill="#ff4500"/>
<rect x="789" y="172" width="1" height="38" fill="#32cd32"/>
<rect x="787" y="172" width="5" height="33" fill="#32cd32"/>
<rect x="797" y="187" width="1" height="31" fill="#ff0000"/>
<rect x="795" y="196" width="5" height="9" fill="#ff0000"/>
<rect x="796" y="197" width="3" height="7" fill="#ff4500"/>
<rect x="805" y="195" width="1" height="21" fill="#32cd32"/>
<rect x="803" y="197" width="5" height="2" fill="#32cd32"/>
<rect x="813" y="194" width="1" height="22" fill="#ff0000"/>
<rect x="811" y="195" width="5" height="7" fill="#ff0000"/>
<rect x="812" y="196" width="3" height="5" fill="#ff4500"/>
<rect x="821" y="177" width="1" height="24" fill="#ff0000"/>
<rect x="819" y="179" width="5" height="17" fill="#ff0000"/>
<rect x="820" y="180" width="3" height="15" fill="#ff4500"/>
<rect x="829" y="148" width="1" height="32" fill="#ff0000"/>
<rect x="827" y="149" width="5" height="30" fill="#ff0000"/>
<rect x="828" y="150" width="3" height="28" fill="#ff4500"/>
<rect x="837" y="148" width="1" height="47" fill="#32cd32"/>
<rect x="835" y="149" width="5" height="31" fill="#32cd32"/>
<rect x="845" y="158" width="1" height="30" fill="#ff0000"/>
<rect x="843" y="175" width="5" height="5" fill="#ff0000"/>
<rect x="844" y="176" width="3" height="3" fill="#ff4500"/>
<rect x="853" y="166" width="1" height="14" fill="#32cd32"/>
<rect x="851" y="175" width="5" height="1" fill="#32cd32"/>
<rect x="861" y="184" width="1" height="42" fill="#32cd32"/>
<rect x="859" y="189" width="5" height="26" fill="#32cd32"/>
<rect x="869" y="202" width="1" height="22" fill="#ff0000"/>
<rect x="867" y="207" width="5" height="8" fill="#ff0000"/>
<rect x="868" y="208" width="3" height="6" fill="#ff4500"/>
<rect x="877" y="133" width="1" height="83" fill="#ff0000"/>
<rect x="875" y="141" width="5" height="67" fill="#ff0000"/>
<rect x="876" y="142" width="3" height="65" fill="#ff4500"/>
<rect x="885" y="118" width="1" height="34" fill="#ff0000"/>
<rect x="883" y="123" width="5" height="19" fill="#ff0000"/>
<rect x="884" y="124" width="3" height="17" fill="#ff4500"/>
<rect x="893" y="118" width="1" height="72" fill="#32cd32"/>
<rect x="891" y="124" width="5" height="51" fill="#32cd32"/>
<rect x="901" y="166" width="1" height="13" fill="#32cd32"/>
<rect x="899" y="174" width="5" height="5" fill="#32cd32"/>
<rect x="909" y="134" width="1" height="41" fill="#ff0000"/>
<rect x="907" y="136" width="5" height="25" fill="#ff0000"/>
<rect x="908" y="137" width="3" height="23" fill="#ff4500"/>
<rect x="917" y="125" width="1" height="17" fill="#ff0000"/>
<rect x="915" y="128" width="5" height="9" fill="#ff0000"/>
<rect x="916" y="129" width="3" height="7" fill="#ff4500"/>
<rect x="925" y="123" width="1" height="40" fill="#32cd32"/>
<rect x="923" y="127" width="5" height="33" fill="#32cd32"/>
<rect x="933" y="139" width="1" height="26" fill="#ff0000"/>
<rect x="931" y="150" width="5" height="10" fill="#ff0000"/>
<rect x="932" y="151" width="3" height="8" fill="#ff4500"/>
<rect x="941" y="132" width="1" height="26" fill="#ff0000"/>
<rect x="939" y="144" width="5" height="7" fill="#ff0000"/>
<rect x="940" y="145" width="3" height="5" fill="#ff4500"/>
<rect x="949" y="137" width="1" height="8" fill="#ff0000"/>
<rect x="947" y="143" width="5" height="2" fill="#ff0000"/>
<rect x="957" y="130" width="1" height="14" fill="#32cd32"/>
<rect x="955" y="140" width="5" height="3" fill="#32cd32"/>
<rect x="965" y="117" width="1" height="26" fill="#ff0000"/>
<rect x="963" y="117" width="5" height="26" fill="#ff0000"/>
<rect x="964" y="118" width="3" height="24" fill="#ff4500"/>
<rect x="973" y="96" width="1" height="32" fill="#32cd32"/>
<rect x="971" y="117" width="5" height="11" fill="#32cd32"/>
<rect x="981" y="92" width="1" height="36" fill="#ff0000"/>
<rect x="979" y="97" width="5" height="31" fill="#ff0000"/>
<rect x="980" y="98" width="3" height="29" fill="#ff4500"/>
<rect x="989" y="70" width="1" height="31" fill="#ff0000"/>
<rect x="987" y="74" width="5" height="24" fill="#ff0000"/>
<rect x="988" y="75" width="3" height="22" fill="#ff4500"/>
<rect x="997" y="58" width="1" height="19" fill="#ff0000"/>
<rect x="995" y="60" width="5" height="15" fill="#ff0000"/>
<rect x="996" y="61" width="3" height="13" fill="#ff4500"/>
<rect x="1005" y="55" width="1" height="15" fill="#32cd32"/>
<rect x="1003" y="59" width="5" height="3" fill="#32cd32"/>
<rect x="1013" y="50" width="1" height="19" fill="#ff0000"/>
<rect x="1011" y="60" width="5" height="2" fill="#ff0000"/>
<rect x="1021" y="50" width="1" height="15" fill="#ff0000"/>
<rect x="1019" y="54" width="5" height="3" fill="#ff0000"/>
<rect x="1020" y="55" width="3" height="1" fill="#ff4500"/>
<rect x="1029" y="54" width="1" height="16" fill="#32cd32"/>
<rect x="1027" y="54" width="5" height="6" fill="#32cd32"/>
</g>
<rect x="992" y="49" width="116" height="2" fill="#ff2626"/>
<rect x="879" y="116" width="256" height="2" fill="#8fc800"/>
<rect x="927" y="164" width="148" height="1" fill="#1e90ff"/>
<rect x="5" y="418" width="1" height="10" fill="#c0c0c0"/>
<rect x="13" y="424" width="1" height="4" fill="#c0c0c0"/>
<rect x="21" y="427" width="1" height="1" fill="#c0c0c0"/>
<rect x="29" y="427" width="1" height="1" fill="#c0c0c0"/>
<rect x="37" y="427" width="1" height="5" fill="#c0c0c0"/>
<rect x="45" y="427" width="1" height="9" fill="#c0c0c0"/>
<rect x="53" y="427" width="1" height="11" fill="#c0c0c0"/>
<rect x="61" y="427" width="1" height="12" fill="#c0c0c0"/>
<rect x="69" y="427" width="1" height="15" fill="#c0c0c0"/>
<rect x="77" y="427" width="1" height="15" fill="#c0c0c0"/>
<rect x="85" y="427" width="1" height="14" fill="#c0c0c0"/>
<rect x="93" y="427" width="1" height="13" fill="#c0c0c0"/>
<rect x="101" y="427" width="1" height="12" fill="#c0c0c0"/>
<rect x="109" y="427" width="1" height="9" fill="#c0c0c0"/>
<rect x="117" y="427" width="1" height="5" fill="#c0c0c0"/>
<rect x="125" y="427" width="1" height="5" fill="#c0c0c0"/>
<rect x="133" y="427" width="1" height="2" fill="#c0c0c0"/>
<rect x="141" y="427" width="1" height="1" fill="#c0c0c0"/>
<rect x="149" y="427" width="1" height="1" fill="#c0c0c0"/>
<rect x="157" y="427" width="1" height="2" fill="#c0c0c0"/>
<rect x="165" y="427" width="1" height="4" fill="#c0c0c0"/>
<rect x="173" y="427" width="1" height="5" fill="#c0c0c0"/>
<rect x="181" y="427" width="1" height="5" fill="#c0c0c0"/>
<rect x="189" y="427" width="1" height="6" fill="#c0c0c0"/>
<rect x="197" y="427" width="1" height="9" fill="#c0c0c0"/>
<rect x="205" y="427" width="1" height="12" fill="#c0c0c0"/>
<rect x="213" y="427" width="1" height="15" fill="#c0c0c0"/>
<rect x="221" y="427" width="1" height="15" fill="#c0c0c0"/>
<rect x="229" y="427" width="1" height="13" fill="#c0c0c0"/>
<rect x="237" y="427" width="1" height="10" fill="#c0c0c0"/>
<rect x="245" y="427" width="1" height="2" fill="#c0c0c0"/>
<rect x="253" y="425" width="1" height="3" fill="#c0c0c0"/>
<rect x="261" y="423" width="1" height="5" fill="#c0c0c0"/>
<rect x="269" y="420" width="1" height="8" fill="#c0c0c0"/>
<rect x="277" y="418" width="1" height="10" fill="#c0c0c0"/>
<rect x="285" y="416" width="1" height="12" fill="#c0c0c0"/>
<rect x="293" y="417" width="1" height="11" fill="#c0c0c0"/>
<rect x="301" y="422" width="1" height="6" fill="#c0c0c0"/>
<rect x="309" y="425" width="1" height="3" fill="#c0c0c0"/>
<rect x="317" y="427" width="1" height="1" fill="#c0c0c0"/>
<rect x="325" y="427" width="1" height="1" fill="#c0c0c0"/>
<rect x="333" y="427" width="1" height="3" fill="#c0c0c0"/>
<rect x="341" y="427" width="1" height="6" fill="#c0c0c0"/>
<rect x="349" y="427" width="1" height="9" fill="#c0c0c0"/>
<rect x="357" y="427" width="1" height="12" fill="#c0c0c0"/>
<rect x="365" y="427" width="1" height="15" fill="#c0c0c0"/>
<rect x="373" y="427" width="1" height="17" fill="#c0c0c0"/>
<rect x="381" y="427" width="1" height="17" fill="#c0c0c0"/>
<rect x="389" y="427" width="1" height="17" fill="#c0c0c0"/>
<rect x="397" y="427" width="1" height="16" fill="#c0c0c0"/>
<rect x="405" y="427" width="1" height="13" fill="#c0c0c0"/>
<rect x="413" y="427" width="1" height="14" fill="#c0c0c0"/>
<rect x="421" y="427" width="1" height="16" fill="#c0c0c0"/>
<rect x="429" y="427" width="1" height="20" fill="#c0c0c0"/>
<rect x="437" y="427" width="1" height="23" fill="#c0c0c0"/>
<rect x="445" y="427" width="1" height="24" fill="#c0c0c0"/>
<rect x="453" y="427" width="1" height="22" fill="#c0c0c0"/>
<rect x="461" y="427" width="1" height="19" fill="#c0c0c0"/>
<rect x="469" y="427" width="1" height="17" fill="#c0c0c0"/>
<rect x="477" y="427" width="1" height="13" fill="#c0c0c0"/>
<rect x="485" y="427" width="1" height="11" fill="#c0c0c0"/>
<rect x="493" y="427" width="1" height="8" fill="#c0c0c0"/>
<rect x="501" y="427" width="1" height="4" fill="#c0c0c0"/>
<rect x="509" y="427" width="1" height="1" fill="#c0c0c0"/>
<rect x="517" y="426" width="1" height="2" fill="#c0c0c0"/>
<rect x="525" y="427" width="1" height="1" fill="#c0c0c0"/>
<rect x="533" y="427" width="1" height="1" fill="#c0c0c0"/>
<rect x="541" y="427" width="1" height="1" fill="#c0c0c0"/>
<rect x="549" y="424" width="1" height="4" fill="#c0c0c0"/>
<rect x="557" y="420" width="1" height="8" fill="#c0c0c0"/>
<rect x="565" y="417" width="1" height="11" fill="#c0c0c0"/>
<rect x="573" y="415" width="1" height="13" fill="#c0c0c0"/>
<rect x="581" y="413" width="1" height="15" fill="#c0c0c0"/>
<rect x="589" y="416" width="1" height="12" fill="#c0c0c0"/>
<rect x="597" y="416" width="1" height="12" fill="#c0c0c0"/>
<rect x="605" y="414" width="1" height="14" fill="#c0c0c0"/>
<rect x="613" y="414" width="1" height="14" fill="#c0c0c0"/>
<rect x="621" y="412" width="1" height="16" fill="#c0c0c0"/>
<rect x="629" y="411" width="1" height="17" fill="#c0c0c0"/>
<rect x="637" y="411" width="1" height="17" fill="#c0c0c0"/>
<rect x="645" y="411" width="1" height="17" fill="#c0c0c0"/>
<rect x="653" y="412" width="1" height="16" fill="#c0c0c0"/>
<rect x="661" y="412" width="1" height="16" fill="#c0c0c0"/>
<rect x="669" y="413" width="1" height="15" fill="#c0c0c0"/>
<rect x="677" y="414" width="1" height="14" fill="#c0c0c0"/>
<rect x="685" y="414" width="1" height="14" fill="#c0c0c0"/>
<rect x="693" y="415" width="1" height="13" fill="#c0c0c0"/>
<rect x="701" y="412" width="1" height="16" fill="#c0c0c0"/>
<rect x="709" y="410" width="1" height="18" fill="#c0c0c0"/>
<rect x="717" y="408" width="1" height="20" fill="#c0c0c0"/>
<rect x="725" y="406" width="1" height="22" fill="#c0c0c0"/>
<rect x="733" y="405" width="1" height="23" fill="#c0c0c0"/>
<rect x="741" y="405" width="1" height="23" fill="#c0c0c0"/>
<rect x="749" y="408" width="1" height="20" fill="#c0c0c0"/>
<rect x="757" y="408" width="1" height="20" fill="#c0c0c0"/>
<rect x="765" y="411" width="1" height="17" fill="#c0c0c0"/>
<rect x="773" y="410" width="1" height="18" fill="#c0c0c0"/>
<rect x="781" y="407" width="1" height="21" fill="#c0c0c0"/>
<rect x="789" y="408" width="1" height="20" fill="#c0c0c0"/>
<rect x="797" y="408" width="1" height="20" fill="#c0c0c0"/>
<rect x="805" y="409" width="1" height="19" fill="#c0c0c0"/>
<rect x="813" y="409" width="1" height="19" fill="#c0c0c0"/>
<rect x="821" y="408" width="1" height="20" fill="#c0c0c0"/>
<rect x="829" y="405" width="1" height="23" fill="#c0c0c0"/>
<rect x="837" y="405" width="1" height="23" fill="#c0c0c0"/>
<rect x="845" y="405" width="1" height="23" fill="#c0c0c0"/>
<rect x="853" y="407" width="1" height="21" fill="#c0c0c0"/>
<rect x="861" y="410" width="1" height="18" fill="#c0c0c0"/>
<rect x="869" y="413" width="1" height="15" fill="#c0c0c0"/>
<rect x="877" y="409" width="1" height="19" fill="#c0c0c0"/>
<rect x="885" y="405" width="1" height="23" fill="#c0c0c0"/>
<rect x="893" y="406" width="1" height="22" fill="#c0c0c0"/>
<rect x="901" y="408" width="1" height="20" fill="#c0c0c0"/>
<rect x="909" y="406" width="1" height="22" fill="#c0c0c0"/>
<rect x="917" y="404" width="1" height="24" fill="#c0c0c0"/>
<rect x="925" y="406" width="1" height="22" fill="#c0c0c0"/>
<rect x="933" y="405" width="1" height="23" fill="#c0c0c0"/>
<rect x="941" y="405" width="1" height="23" fill="#c0c0c0"/>
<rect x="949" y="405" width="1" height="23" fill="#c0c0c0"/>
<rect x="957" y="406" width="1" height="22" fill="#c0c0c0"/>
<rect x="965" y="404" width="1" height="24" fill="#c0c0c0"/>
<rect x="973" y="404" width="1" height="24" fill="#c0c0c0"/>
<rect x="981" y="401" width="1" height="27" fill="#c0c0c0"/>
<rect x="989" y="397" width="1" height="31" fill="#c0c0c0"/>
<rect x="997" y="393" width="1" height="35" fill="#c0c0c0"/>
<rect x="1005" y="390" width="1" height="38" fill="#c0c0c0"/>
<rect x="1013" y="389" width="1" height="39" fill="#c0c0c0"/>
<rect x="1021" y="387" width="1" height="41" fill="#c0c0c0"/>
<rect x="1029" y="387" width="1" height="41" fill="#c0c0c0"/>
<polyline points="5.5,416.5 21.5,417 29.5,418 37.5,421 45.5,422.5 53.5,424.5 61.5,429 69.5,431 77.5,433 85.5,436.5 93.5,438 101.5,439.5 117.5,439.5 125.5,438 133.5,437 149.5,435 165.5,432.5 173.5,431 181.5,430 189.5,430 197.5,431.5 205.5,433 213.5,434 221.5,435 229.5,436 237.5,437.5 245.5,437.5 253.5,436 262.5,434.5 270.5,433 277.5,430.5 282.5,428.5 289.5,426.5 294.5,424 300.5,422 306.5,421.5 312.5,421.5 318.5,420.5 325.5,421 331.5,422.5 337.5,422.5 343.5,423 349.5,425 355.5,427 361.5,429 367.5,431.5 373.5,434.5 379.5,435.5 385.5,437.5 391.5,438.5 397.5,440 403.5,441 409.5,441.5 415.5,442.5 421.5,442.5 427.5,443.5 433.5,444 439.5,444.5 445.5,445.5 463.5,445.5 469.5,446.5 475.5,446.5 481.5,446 487.5,445.5 493.5,445.5 498.5,444 504.5,442 510.5,440 516.5,438.5 522.5,436.5 528.5,434.5 534.5,433 540.5,431.5 546.5,430 552.5,428.5 558.5,427 564.5,425 570.5,424 576.5,422.5 582.5,421.5 588.5,420.5 594.5,419 600.5,418.5 606.5,417.5 612.5,416.5 618.5,415 624.5,414 630.5,413 636.5,413 642.5,412.5 654.5,412.5 660.5,412 666.5,411.5 696.5,411.5 702.5,412.5 708.5,412 714.5,411.5 726.5,411 732.5,410.5 738.5,409.5 744.5,409 750.5,408 756.5,408 762.5,407 806.5,407.3 812.5,408.5 822.5,408.3 829.5,407.3 840.5,407.3 846.5,406.3 866.5,406.3 870.5,407.3 877.5,407.3 882.5,406.3 902.5,406.3 908.5,407.3 912.5,407.3 918.5,406.3 936.5,406.3 942.5,405.3 958.5,405.3 964.5,404.3 974.5,404.3 978.5,403.3 990.5,403.3 996.5,401.3 1002.5,400.3 1008.5,399.5 1014.5,399 1020.5,396.3 1026.5,395.3 1029.5,394" fill="none" stroke="#ff0000" stroke-width="1" stroke-dasharray="3 3"/>
<line x1="6" y1="486.5" x2="1305" y2="486.5" stroke="#c0c0c0" stroke-dasharray="3 3"/>
<line x1="6" y1="524.5" x2="1305" y2="524.5" stroke="#c0c0c0" stroke-dasharray="3 3"/>
<polyline points="5.5,504.9 13.5,512.5 21.5,510.5 29.5,511.3 37.5,512.3 45.5,514.3 53.5,514.3 61.5,512.5 69.5,515.5 77.5,513.5 85.5,508.5 93.5,511.3 101.5,508.5 109.5,500.3 117.5,500.3 125.5,507.3 133.5,501.3 141.5,500.3 149.5,507.3 157.5,509.3 165.5,509.5 173.5,512.5 181.5,505.3 189.5,508.5 197.5,513.3 205.5,515.3 213.5,516.3 221.5,510.5 229.5,505.3 237.5,501.3 245.5,496.5 253.5,496.5 261.5,499.3 269.5,498.5 277.5,497.3 285.5,499.5 293.5,501.3 301.5,511.3 309.5,511.3 317.5,509.5 325.5,509.5 333.5,510.5 341.5,513.5 349.5,516.3 357.5,517.3 365.5,518.3 373.5,517.5 381.5,515.5 389.5,514.3 397.5,511.3 405.5,502.3 413.5,513.3 421.5,513.3 429.5,521.3 437.5,519.3 445.5,518.3 453.5,509.9 461.5,506.5 469.5,507.3 477.5,503.3 485.5,505.3 493.5,503.3 501.5,498.5 509.5,500.3 517.5,498.5 525.5,506.3 533.5,508.3 541.5,504.3 549.5,498.5 557.5,495.5 565.5,494.3 573.5,495.3 581.5,496.3 589.5,506.3 597.5,501.5 605.5,498.5 613.5,499.5 621.5,496.3 629.5,496.3 637.5,496.3 645.5,499.3 653.5,499.3 661.5,498.3 669.5,502.3 677.5,498.3 685.5,499.3 693.5,501.5 701.5,492.5 709.5,491.3 717.5,490.4 725.5,488.4 733.5,490.4 741.5,490.4 749.5,503.3 757.5,501.5 765.5,500.5 773.5,494.5 781.5,489.6 789.5,499.3 797.5,497.5 805.5,498.3 813.5,497.3 821.5,493.3 829.5,488.4 837.5,497.3 845.5,496.3 853.5,496.3 861.5,507.3 869.5,505.3 877.5,493.5 885.5,490.6 893.5,501.3 901.5,502.3 909.5,496.5 917.5,495.3 925.5,501.3 933.5,499.5 941.5,499.3 949.5,498.5 957.5,498.3 965.5,494.3 973.5,496.3 981.5,492.5 989.5,489.6 997.5,487.4 1005.5,487.4 1013.5,487.4 1021.5,486.4 1029.5,488.4" fill="none" stroke="#1e90ff" stroke-width="1"/>
<rect x="1306" y="46" width="2" height="1" fill="#000"/>
<text x="1311.1" y="50" font-size="9.5" fill="#000" textLength="33" lengthAdjust="spacingAndGlyphs" stroke="#000" stroke-width="0.2">1.36250</text>
<rect x="1306" y="79" width="2" height="1" fill="#000"/>
<text x="1311.1" y="83" font-size="9.5" fill="#000" textLength="33" lengthAdjust="spacingAndGlyphs" stroke="#000" stroke-width="0.2">1.35400</text>
<rect x="1306" y="112" width="2" height="1" fill="#000"/>
<text x="1311.1" y="116" font-size="9.5" fill="#000" textLength="33" lengthAdjust="spacingAndGlyphs" stroke="#000" stroke-width="0.2">1.34525</text>
<rect x="1306" y="145" width="2" height="1" fill="#000"/>
<text x="1311.1" y="149" font-size="9.5" fill="#000" textLength="33" lengthAdjust="spacingAndGlyphs" stroke="#000" stroke-width="0.2">1.33675</text>
<rect x="1306" y="178" width="2" height="1" fill="#000"/>
<text x="1311.1" y="182" font-size="9.5" fill="#000" textLength="33" lengthAdjust="spacingAndGlyphs" stroke="#000" stroke-width="0.2">1.32825</text>
<rect x="1306" y="211" width="2" height="1" fill="#000"/>
<text x="1311.1" y="215" font-size="9.5" fill="#000" textLength="33" lengthAdjust="spacingAndGlyphs" stroke="#000" stroke-width="0.2">1.31950</text>
<rect x="1306" y="244" width="2" height="1" fill="#000"/>
<text x="1311.1" y="248" font-size="9.5" fill="#000" textLength="33" lengthAdjust="spacingAndGlyphs" stroke="#000" stroke-width="0.2">1.31100</text>
<rect x="1306" y="277" width="2" height="1" fill="#000"/>
<text x="1311.1" y="281" font-size="9.5" fill="#000" textLength="33" lengthAdjust="spacingAndGlyphs" stroke="#000" stroke-width="0.2">1.30250</text>
<rect x="1306" y="310" width="2" height="1" fill="#000"/>
<text x="1311.1" y="314" font-size="9.5" fill="#000" textLength="33" lengthAdjust="spacingAndGlyphs" stroke="#000" stroke-width="0.2">1.29375</text>
<rect x="1306" y="343" width="2" height="1" fill="#000"/>
<text x="1311.1" y="347" font-size="9.5" fill="#000" textLength="33" lengthAdjust="spacingAndGlyphs" stroke="#000" stroke-width="0.2">1.28525</text>
<rect x="1306" y="376" width="2" height="1" fill="#000"/>
<text x="1311.1" y="380" font-size="9.5" fill="#000" textLength="33" lengthAdjust="spacingAndGlyphs" stroke="#000" stroke-width="0.2">1.27675</text>
<rect x="1307" y="54" width="41" height="11" fill="#000"/>
<text x="1311.1" y="63" font-size="9.5" fill="#fff" textLength="33" lengthAdjust="spacingAndGlyphs">1.35906</text>
<text x="1308.7" y="392" font-size="9.5" fill="#000" textLength="38" lengthAdjust="spacingAndGlyphs" stroke="#000" stroke-width="0.2">0.009727</text>
<rect x="1306" y="427" width="2" height="1" fill="#000"/>
<text x="1308.7" y="431" font-size="9.5" fill="#000" textLength="17.8" lengthAdjust="spacingAndGlyphs" stroke="#000" stroke-width="0.2">0.00</text>
<text x="1309.3" y="452" font-size="9.5" fill="#000" textLength="41" lengthAdjust="spacingAndGlyphs" stroke="#000" stroke-width="0.2">-0.006182</text>
<text x="1308.3" y="468" font-size="9.5" fill="#000" textLength="15.2" lengthAdjust="spacingAndGlyphs" stroke="#000" stroke-width="0.2">100</text>
<text x="1308" y="490" font-size="9.5" fill="#000" textLength="10.2" lengthAdjust="spacingAndGlyphs" stroke="#000" stroke-width="0.2">70</text>
<text x="1308" y="528" font-size="9.5" fill="#000" textLength="10.2" lengthAdjust="spacingAndGlyphs" stroke="#000" stroke-width="0.2">30</text>
<text x="1308.6" y="549" font-size="9.5" fill="#000" textLength="5.2" lengthAdjust="spacingAndGlyphs" stroke="#000" stroke-width="0.2">0</text>
<text x="9.5" y="394" font-size="9.5" fill="#000" textLength="147.5" lengthAdjust="spacingAndGlyphs" stroke="#000" stroke-width="0.2">MACD(12,26,9) 0.009004 0.007256</text>
<text x="9.5" y="470" font-size="9.5" fill="#000" textLength="67.5" lengthAdjust="spacingAndGlyphs" stroke="#000" stroke-width="0.2">RSI(14) 67.9914</text>
<path d="M11 38h1v1h1v1h1v1h1v1h-7v-1h1v-1h1v-1h1z" fill="#000"/>
<text x="20.5" y="43" font-size="9.5" fill="#000" textLength="65.4" lengthAdjust="spacingAndGlyphs" stroke="#000" stroke-width="0.2">USDCAD,Daily</text>
<text x="92.3" y="43" font-size="9.5" fill="#000" textLength="32.4" lengthAdjust="spacingAndGlyphs" stroke="#000" stroke-width="0.2">1.36053</text>
<text x="128.4" y="43" font-size="9.5" fill="#000" textLength="32.4" lengthAdjust="spacingAndGlyphs" stroke="#000" stroke-width="0.2">1.36053</text>
<text x="164.5" y="43" font-size="9.5" fill="#000" textLength="32.4" lengthAdjust="spacingAndGlyphs" stroke="#000" stroke-width="0.2">1.35653</text>
<text x="200.60000000000002" y="43" font-size="9.5" fill="#000" textLength="32.4" lengthAdjust="spacingAndGlyphs" stroke="#000" stroke-width="0.2">1.35906</text>
<rect x="5" y="553" width="1" height="3" fill="#000"/>
<text x="4.2" y="565" font-size="9.5" fill="#000" textLength="47.5" lengthAdjust="spacingAndGlyphs" stroke="#000" stroke-width="0.2">24 Jul 2018</text>
<rect x="69" y="553" width="1" height="3" fill="#000"/>
<text x="68.2" y="565" font-size="9.5" fill="#000" textLength="46.9" lengthAdjust="spacingAndGlyphs" stroke="#000" stroke-width="0.2">3 Aug 2018</text>
<rect x="133" y="553" width="1" height="3" fill="#000"/>
<text x="132.2" y="565" font-size="9.5" fill="#000" textLength="52.1" lengthAdjust="spacingAndGlyphs" stroke="#000" stroke-width="0.2">15 Aug 2018</text>
<rect x="197" y="553" width="1" height="3" fill="#000"/>
<text x="196.2" y="565" font-size="9.5" fill="#000" textLength="52.1" lengthAdjust="spacingAndGlyphs" stroke="#000" stroke-width="0.2">27 Aug 2018</text>
<rect x="261" y="553" width="1" height="3" fill="#000"/>
<text x="260.2" y="565" font-size="9.5" fill="#000" textLength="47.4" lengthAdjust="spacingAndGlyphs" stroke="#000" stroke-width="0.2">6 Sep 2018</text>
<rect x="325" y="553" width="1" height="3" fill="#000"/>
<text x="324.2" y="565" font-size="9.5" fill="#000" textLength="52.6" lengthAdjust="spacingAndGlyphs" stroke="#000" stroke-width="0.2">15 Sep 2018</text>
<rect x="389" y="553" width="1" height="3" fill="#000"/>
<text x="388.2" y="565" font-size="9.5" fill="#000" textLength="52.6" lengthAdjust="spacingAndGlyphs" stroke="#000" stroke-width="0.2">25 Sep 2018</text>
<rect x="453" y="553" width="1" height="3" fill="#000"/>
<text x="452.2" y="565" font-size="9.5" fill="#000" textLength="45.3" lengthAdjust="spacingAndGlyphs" stroke="#000" stroke-width="0.2">4 Oct 2018</text>
<rect x="517" y="553" width="1" height="3" fill="#000"/>
<text x="516.2" y="565" font-size="9.5" fill="#000" textLength="50.5" lengthAdjust="spacingAndGlyphs" stroke="#000" stroke-width="0.2">13 Oct 2018</text>
<rect x="581" y="553" width="1" height="3" fill="#000"/>
<text x="580.2" y="565" font-size="9.5" fill="#000" textLength="50.5" lengthAdjust="spacingAndGlyphs" stroke="#000" stroke-width="0.2">23 Oct 2018</text>
<rect x="645" y="553" width="1" height="3" fill="#000"/>
<text x="644.2" y="565" font-size="9.5" fill="#000" textLength="48.8" lengthAdjust="spacingAndGlyphs" stroke="#000" stroke-width="0.2">1 Nov 2018</text>
<rect x="709" y="553" width="1" height="3" fill="#000"/>
<text x="708.2" y="565" font-size="9.5" fill="#000" textLength="54.1" lengthAdjust="spacingAndGlyphs" stroke="#000" stroke-width="0.2">10 Nov 2018</text>
<rect x="773" y="553" width="1" height="3" fill="#000"/>
<text x="772.2" y="565" font-size="9.5" fill="#000" textLength="54.1" lengthAdjust="spacingAndGlyphs" stroke="#000" stroke-width="0.2">20 Nov 2018</text>
<rect x="837" y="553" width="1" height="3" fill="#000"/>
<text x="836.2" y="565" font-size="9.5" fill="#000" textLength="54.1" lengthAdjust="spacingAndGlyphs" stroke="#000" stroke-width="0.2">29 Nov 2018</text>
<rect x="901" y="553" width="1" height="3" fill="#000"/>
<text x="900.2" y="565" font-size="9.5" fill="#000" textLength="47.0" lengthAdjust="spacingAndGlyphs" stroke="#000" stroke-width="0.2">8 Dec 2018</text>
<rect x="965" y="553" width="1" height="3" fill="#000"/>
<text x="964.2" y="565" font-size="9.5" fill="#000" textLength="52.1" lengthAdjust="spacingAndGlyphs" stroke="#000" stroke-width="0.2">18 Dec 2018</text>
<rect x="1029" y="553" width="1" height="3" fill="#000"/>
<text x="1028.2" y="565" font-size="9.5" fill="#000" textLength="52.1" lengthAdjust="spacingAndGlyphs" stroke="#000" stroke-width="0.2">27 Dec 2018</text>
<rect x="8" y="51" width="52" height="25" fill="url(#gb)"/>
<rect x="8" y="75" width="109" height="40" fill="url(#gb)"/>
<rect x="175" y="51" width="52" height="25" fill="url(#gb)"/>
<rect x="119" y="75" width="108" height="40" fill="url(#gb)"/>
<rect x="8" y="51" width="52" height="1" fill="#0000b0" opacity="0.75"/>
<rect x="8" y="51" width="1" height="64" fill="#0000b0" opacity="0.75"/>
<rect x="59" y="51" width="1" height="24" fill="#0000b0" opacity="0.75"/>
<rect x="59" y="75" width="58" height="1" fill="#0000b0" opacity="0.75"/>
<rect x="116" y="75" width="1" height="40" fill="#0000b0" opacity="0.75"/>
<rect x="8" y="114" width="109" height="1" fill="#0000b0" opacity="0.75"/>
<rect x="175" y="51" width="52" height="1" fill="#0000b0" opacity="0.75"/>
<rect x="226" y="51" width="1" height="64" fill="#0000b0" opacity="0.75"/>
<rect x="175" y="51" width="1" height="24" fill="#0000b0" opacity="0.75"/>
<rect x="119" y="75" width="57" height="1" fill="#0000b0" opacity="0.75"/>
<rect x="119" y="75" width="1" height="40" fill="#0000b0" opacity="0.75"/>
<rect x="119" y="114" width="108" height="1" fill="#0000b0" opacity="0.75"/>
<rect x="12" y="74" width="44" height="1" fill="#0000a8"/>
<rect x="12" y="75" width="44" height="1" fill="#8c8cff"/>
<rect x="179" y="74" width="44" height="1" fill="#0000a8"/>
<rect x="179" y="75" width="44" height="1" fill="#8c8cff"/>
<rect x="62" y="51" width="111" height="22" fill="#b4b4b4"/>
<rect x="63" y="52" width="109" height="20" fill="#fff"/>
<rect x="64" y="53" width="19" height="18" fill="url(#gs)"/>
<rect x="83" y="52" width="1" height="20" fill="#b4b4b4"/>
<rect x="153" y="53" width="18" height="18" fill="url(#gs)"/>
<rect x="151" y="52" width="1" height="20" fill="#b4b4b4"/>
<rect x="70" y="60" width="5" height="1" fill="#7c94d8"/>
<rect x="71" y="61" width="3" height="1" fill="#5470c4"/>
<rect x="72" y="62" width="1" height="1" fill="#4a68c0"/>
<rect x="161" y="60" width="1" height="1" fill="#7c94d8"/>
<rect x="160" y="61" width="3" height="1" fill="#5c78c8"/>
<rect x="159" y="62" width="5" height="1" fill="#4a68c0"/>
<text x="148.1" y="66" font-size="12.5" fill="#000" textLength="24" lengthAdjust="spacingAndGlyphs" text-anchor="end">0.50</text>
<text x="33.2" y="67" font-size="12.5" fill="#fff" textLength="25" lengthAdjust="spacingAndGlyphs" text-anchor="middle">SELL</text>
<text x="200.5" y="67" font-size="12.5" fill="#fff" textLength="23" lengthAdjust="spacingAndGlyphs" text-anchor="middle">BUY</text>
<text x="28.0" y="106" font-size="12" fill="#fff" textLength="23.9" lengthAdjust="spacingAndGlyphs" font-weight="bold">1.35</text>
<text x="53.9" y="106" font-size="31.5" fill="#fff" textLength="37.7" lengthAdjust="spacingAndGlyphs" font-family="&quot;DejaVu Sans Light&quot;, &quot;DejaVu Sans&quot;, &quot;Liberation Sans&quot;, sans-serif" font-weight="200" stroke="#fff" stroke-width="0.9">90</text>
<text x="95.1" y="90" font-size="11.5" fill="#fff" textLength="7.3" lengthAdjust="spacingAndGlyphs" font-weight="bold">6</text>
<text x="138.0" y="106" font-size="12" fill="#fff" textLength="24" lengthAdjust="spacingAndGlyphs" font-weight="bold">1.35</text>
<text x="165.0" y="106" font-size="31.5" fill="#fff" textLength="37.5" lengthAdjust="spacingAndGlyphs" font-family="&quot;DejaVu Sans Light&quot;, &quot;DejaVu Sans&quot;, &quot;Liberation Sans&quot;, sans-serif" font-weight="200" stroke="#fff" stroke-width="0.9">93</text>
<text x="206.3" y="90" font-size="11.5" fill="#fff" textLength="6.8" lengthAdjust="spacingAndGlyphs" font-weight="bold">3</text>
<rect x="0" y="0" width="591" height="1" fill="#a0a0a0"/>
<rect x="0" y="1" width="592" height="1" fill="#fff"/>
<rect x="591" y="0" width="1" height="1" fill="#fff"/>
<rect x="1" y="9" width="1" height="1" fill="#505050"/>
<rect x="3" y="9" width="1" height="1" fill="#505050"/>
<rect x="5" y="9" width="1" height="1" fill="#505050"/>
<rect x="7" y="9" width="1" height="1" fill="#505050"/>
<rect x="9" y="9" width="1" height="1" fill="#505050"/>
<rect x="9" y="11" width="1" height="1" fill="#505050"/>
<rect x="9" y="13" width="1" height="1" fill="#505050"/>
<rect x="9" y="15" width="1" height="1" fill="#505050"/>
<rect x="9" y="17" width="1" height="1" fill="#505050"/>
<rect x="9" y="19" width="1" height="1" fill="#505050"/>
<rect x="0" y="21" width="1" height="1" fill="#505050"/>
<rect x="2" y="21" width="1" height="1" fill="#505050"/>
<rect x="4" y="21" width="1" height="1" fill="#505050"/>
<rect x="6" y="21" width="1" height="1" fill="#505050"/>
<rect x="8" y="21" width="1" height="1" fill="#505050"/>
<rect x="0" y="12" width="8" height="1" fill="#505050"/>
<rect x="3" y="12" width="2" height="8" fill="#505050"/>
<rect x="28" y="9" width="1" height="1" fill="#555"/>
<rect x="27" y="10" width="3" height="1" fill="#555"/>
<rect x="26" y="11" width="5" height="1" fill="#555"/>
<rect x="25" y="12" width="7" height="1" fill="#555"/>
<rect x="27" y="13" width="3" height="1" fill="#555"/>
<rect x="34" y="17" width="3" height="1" fill="#555"/>
<rect x="32" y="18" width="7" height="1" fill="#555"/>
<rect x="33" y="19" width="5" height="1" fill="#555"/>
<rect x="34" y="20" width="3" height="1" fill="#555"/>
<rect x="35" y="21" width="1" height="1" fill="#555"/>
<rect x="27" y="16" width="1" height="2" fill="#5a5a5a"/>
<rect x="28" y="17" width="1" height="2" fill="#5a5a5a"/>
<rect x="29" y="18" width="1" height="2" fill="#5a5a5a"/>
<rect x="30" y="17" width="1" height="2" fill="#5a5a5a"/>
<rect x="31" y="16" width="1" height="2" fill="#5a5a5a"/>
<rect x="32" y="15" width="1" height="2" fill="#5a5a5a"/>
<rect x="33" y="14" width="1" height="2" fill="#5a5a5a"/>
<rect x="34" y="13" width="1" height="1" fill="#5a5a5a"/>
<rect x="46" y="14" width="5" height="1" fill="#000"/>
<rect x="47" y="15" width="3" height="1" fill="#000"/>
<rect x="48" y="16" width="1" height="1" fill="#000"/>
<rect x="57" y="2" width="1" height="25" fill="#a0a0a0"/>
<rect x="58" y="2" width="1" height="25" fill="#fff"/>
<rect x="61" y="5" width="3" height="1" fill="#a0a0a0"/>
<rect x="61" y="7" width="3" height="1" fill="#a0a0a0"/>
<rect x="61" y="9" width="3" height="1" fill="#a0a0a0"/>
<rect x="61" y="11" width="3" height="1" fill="#a0a0a0"/>
<rect x="61" y="13" width="3" height="1" fill="#a0a0a0"/>
<rect x="61" y="15" width="3" height="1" fill="#a0a0a0"/>
<rect x="61" y="17" width="3" height="1" fill="#a0a0a0"/>
<rect x="61" y="19" width="3" height="1" fill="#a0a0a0"/>
<rect x="61" y="21" width="3" height="1" fill="#a0a0a0"/>
<rect x="61" y="23" width="3" height="1" fill="#a0a0a0"/>
<rect x="318" y="2" width="1" height="25" fill="#a0a0a0"/>
<rect x="319" y="2" width="1" height="25" fill="#fff"/>
<rect x="235" y="3" width="26" height="22" fill="#f8f8f8"/>
<rect x="235" y="3" width="26" height="1" fill="#a0a0a0"/>
<rect x="235" y="3" width="1" height="22" fill="#a0a0a0"/>
<rect x="260" y="3" width="1" height="22" fill="#fff"/>
<rect x="235" y="24" width="26" height="1" fill="#fff"/>
<text x="78.9" y="19" font-size="9.5" fill="#404040" textLength="13" lengthAdjust="spacingAndGlyphs" text-anchor="middle">M1</text>
<text x="107" y="19" font-size="9.5" fill="#404040" textLength="13" lengthAdjust="spacingAndGlyphs" text-anchor="middle">M5</text>
<text x="135.4" y="19" font-size="9.5" fill="#404040" textLength="18.2" lengthAdjust="spacingAndGlyphs" text-anchor="middle">M15</text>
<text x="163.5" y="19" font-size="9.5" fill="#404040" textLength="18" lengthAdjust="spacingAndGlyphs" text-anchor="middle">M30</text>
<text x="191.6" y="19" font-size="9.5" fill="#404040" textLength="12.2" lengthAdjust="spacingAndGlyphs" text-anchor="middle">H1</text>
<text x="218.9" y="19" font-size="9.5" fill="#404040" textLength="13.3" lengthAdjust="spacingAndGlyphs" text-anchor="middle">H4</text>
<text x="247.5" y="19" font-size="9.5" fill="#404040" textLength="12.2" lengthAdjust="spacingAndGlyphs" text-anchor="middle">D1</text>
<text x="276.2" y="19" font-size="9.5" fill="#404040" textLength="14.6" lengthAdjust="spacingAndGlyphs" text-anchor="middle">W1</text>
<text x="303" y="19" font-size="9.5" fill="#404040" textLength="15" lengthAdjust="spacingAndGlyphs" text-anchor="middle">MN</text>
<rect x="0" y="26" width="1352" height="1" fill="#f6f6f6"/>
<rect x="0" y="27" width="1352" height="1" fill="#a0a0a0"/>
<rect x="1" y="28" width="1350" height="1" fill="#696969"/>
<rect x="0" y="27" width="1" height="547" fill="#a0a0a0"/>
<rect x="1" y="28" width="1" height="545" fill="#696969"/>
<rect x="1351" y="29" width="1" height="545" fill="#e3e3e3"/>
<rect x="1352" y="27" width="1" height="574" fill="#fff"/>
<rect x="2" y="573" width="1349" height="1" fill="#e3e3e3"/>
<rect x="0" y="574" width="1353" height="1" fill="#fff"/>
<rect x="0" y="575" width="1353" height="1" fill="#000"/>
<rect x="0" y="576" width="1" height="19" fill="#a0a0a0"/>
<rect x="1" y="576" width="1" height="18" fill="#696969"/>
<rect x="2" y="576" width="1349" height="1" fill="#fff"/>
<rect x="2" y="576" width="1" height="19" fill="#fff"/>
<rect x="1351" y="576" width="1" height="19" fill="#e3e3e3"/>
<rect x="0" y="595" width="1353" height="1" fill="#fff"/>
<rect x="0" y="599" width="1350" height="1" fill="#a0a0a0"/>
<rect x="0" y="600" width="1353" height="1" fill="#fff"/>
<rect x="291" y="575" width="102" height="18" fill="#fff"/>
<rect x="290" y="575" width="1" height="19" fill="#000"/>
<rect x="393" y="575" width="1" height="19" fill="#000"/>
<rect x="290" y="593" width="104" height="1" fill="#000"/>
<rect x="394" y="577" width="1" height="18" fill="#a0a0a0"/>
<rect x="292" y="594" width="103" height="1" fill="#a0a0a0"/>
<text x="18.5" y="590" font-size="12.5" fill="#666" textLength="67.5" lengthAdjust="spacingAndGlyphs">EURUSD,H4</text>
<text x="109.3" y="590" font-size="12.5" fill="#666" textLength="81.7" lengthAdjust="spacingAndGlyphs">AUDUSD,Daily</text>
<text x="212.3" y="590" font-size="12.5" fill="#666" textLength="66.6" lengthAdjust="spacingAndGlyphs">USDCHF,H4</text>
<text x="404.4" y="590" font-size="12.5" fill="#666" textLength="70.3" lengthAdjust="spacingAndGlyphs">USDCNH,H4</text>
<text x="496" y="590" font-size="12.5" fill="#666" textLength="62.9" lengthAdjust="spacingAndGlyphs">USDJPY,H4</text>
<text x="582" y="590" font-size="12.5" fill="#666" textLength="71.5" lengthAdjust="spacingAndGlyphs">XAUUSD,M1</text>
<text x="677.6" y="590" font-size="12.5" fill="#666" textLength="77.1" lengthAdjust="spacingAndGlyphs">GBPUSD,M15</text>
<text x="777.3" y="590" font-size="12.5" fill="#666" textLength="53.3" lengthAdjust="spacingAndGlyphs">SP500,H1</text>
<text x="301.3" y="590" font-size="12.5" fill="#000" textLength="80.7" lengthAdjust="spacingAndGlyphs">USDCAD,Daily</text>
<rect x="98" y="579" width="1" height="13" fill="#808080"/>
<rect x="202" y="579" width="1" height="13" fill="#808080"/>
<rect x="486" y="579" width="1" height="13" fill="#808080"/>
<rect x="570" y="579" width="1" height="13" fill="#808080"/>
<rect x="666" y="579" width="1" height="13" fill="#808080"/>
<rect x="766" y="579" width="1" height="13" fill="#808080"/>
<rect x="842" y="579" width="1" height="13" fill="#808080"/>
<path d="M1324.2 580.8V587L1320.7 583.9Z" fill="#888" shape-rendering="auto"/>
<path d="M1340 580.8V587L1343.4 583.9Z" fill="#888" shape-rendering="auto"/>
</svg>
</body></html>
